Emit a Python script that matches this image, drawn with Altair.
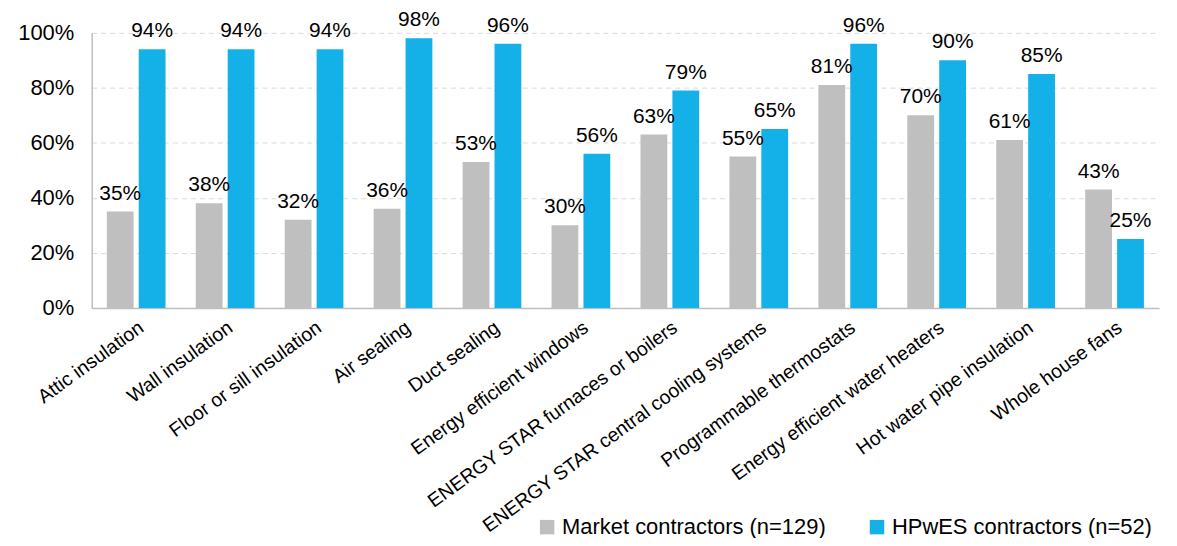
import altair as alt
import pandas as pd

categories = ["Attic insulation", "Wall insulation", "Floor or sill insulation", "Air sealing",
              "Duct sealing", "Energy efficient windows", "ENERGY STAR furnaces or boilers",
              "ENERGY STAR central cooling systems", "Programmable thermostats",
              "Energy efficient water heaters", "Hot water pipe insulation", "Whole house fans"]
market = [35, 38, 32, 36, 53, 30, 63, 55, 81, 70, 61, 43]
hpwes = [94, 94, 94, 98, 96, 56, 79, 65, 96, 90, 85, 25]
series = ["Market contractors (n=129)", "HPwES contractors (n=52)"]
colors = ["#BFBFBF", "#13B1E8"]

rows = []
for c, m, h in zip(categories, market, hpwes):
    rows.append({"cat": c, "series": series[0], "v": m / 100})
    rows.append({"cat": c, "series": series[1], "v": h / 100})
df = pd.DataFrame(rows)

FONT = "Liberation Sans"

x = alt.X("cat:N", sort=categories, title=None,
          scale=alt.Scale(paddingInner=0.34, paddingOuter=0.17),
          axis=alt.Axis(labelAngle=-36, labelAlign="right", labelBaseline="top",
                        labelFontSize=19.5, labelColor="#000", labelFont=FONT,
                        domainColor="#BFBFBF", domainWidth=1.5, ticks=False,
                        labelPadding=10, labelLimit=500))
xoff = alt.XOffset("series:N", sort=series, scale=alt.Scale(paddingInner=0.16))
y = alt.Y("v:Q", title=None, scale=alt.Scale(domain=[0, 1]),
          axis=alt.Axis(format=".0%", values=[0, 0.2, 0.4, 0.6, 0.8, 1.0],
                        labelFontSize=22, labelColor="#000", labelFont=FONT,
                        ticks=False, labelPadding=18,
                        domainColor="#BFBFBF", domainWidth=1.5,
                        grid=True, gridColor="#D9D9D9", gridDash=[5, 4], gridWidth=1))

bars = alt.Chart(df).mark_bar().encode(
    x=x, xOffset=xoff, y=y,
    color=alt.Color("series:N", sort=series,
                    scale=alt.Scale(domain=series, range=colors),
                    legend=alt.Legend(title=None, orient="none", direction="horizontal",
                                      legendX=446, legendY=485, symbolType="square",
                                      symbolSize=210, labelFontSize=22, labelFont=FONT,
                                      labelColor="#000", columnPadding=40, labelOffset=4,
                                      labelLimit=600, symbolStrokeWidth=0))
)

text = alt.Chart(df).mark_text(fontSize=21, font=FONT, color="#000", dy=-12,
                               baseline="alphabetic").encode(
    x=alt.X("cat:N", sort=categories), xOffset=xoff, y=alt.Y("v:Q"),
    text=alt.Text("v:Q", format=".0%")
)

chart = (bars + text).properties(
    width=1071, height=276,
    autosize=alt.AutoSizeParams(type="none"),
    padding={"left": 84, "top": 24, "right": 10, "bottom": 230}
).configure_view(stroke=None)

chart.save("out.html", embed_options={"renderer": "svg", "actions": False})
